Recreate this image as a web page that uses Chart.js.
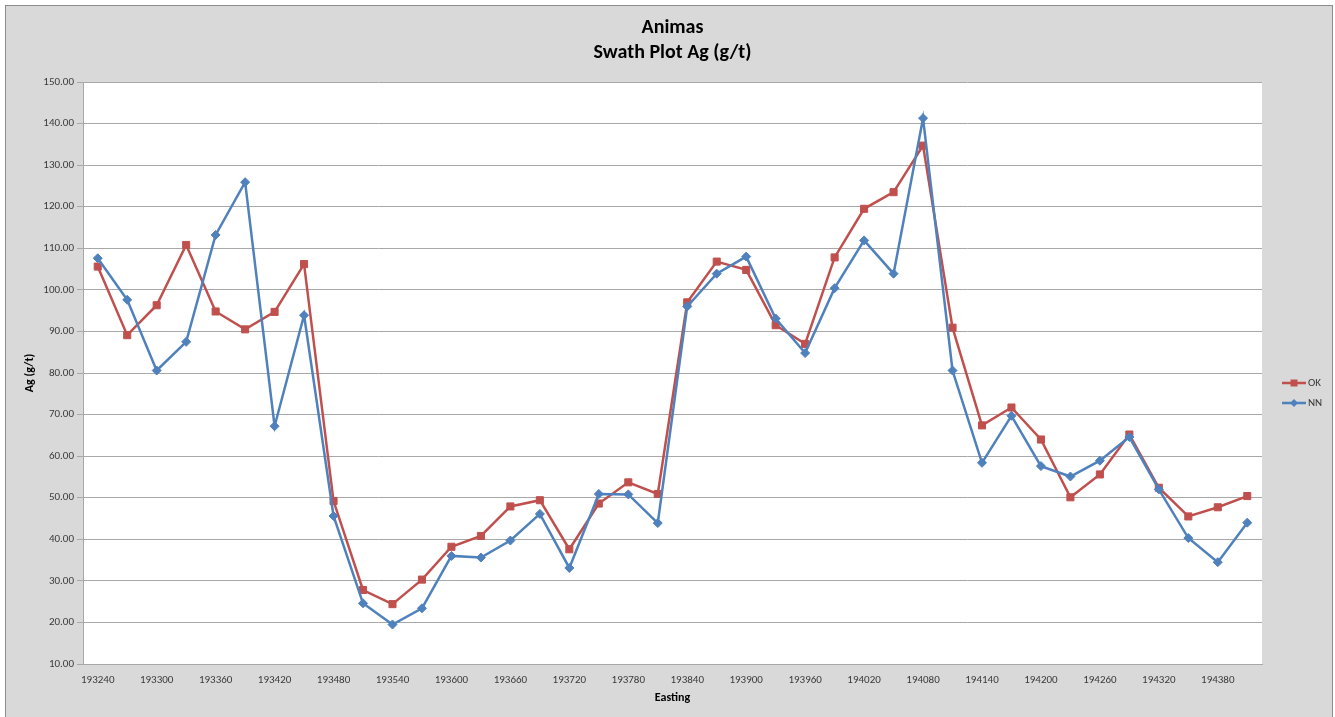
<!DOCTYPE html>
<html>
<head>
<meta charset="utf-8">
<title>Animas – Swath Plot Ag (g/t)</title>
<script src="https://cdn.jsdelivr.net/npm/chart.js@4.4.1/dist/chart.umd.min.js"></script>
<style>
  html, body { margin: 0; padding: 0; background: #ffffff; overflow: hidden; }
  #wrap { width: 1335px; height: 717px; position: relative; }
  canvas { display: block; }
</style>
</head>
<body>
<div id="wrap"><canvas id="swath" width="1335" height="717"></canvas></div>
<script>
// Swath centres (Easting) and average Ag grade per swath
const eastings = [
  193240, 193270, 193300, 193330, 193360, 193390, 193420, 193450, 193480, 193510,
  193540, 193570, 193600, 193630, 193660, 193690, 193720, 193750, 193780, 193810,
  193840, 193870, 193900, 193930, 193960, 193990, 194020, 194050, 194080, 194110,
  194140, 194170, 194200, 194230, 194260, 194290, 194320, 194350, 194380, 194410
];

// Ordinary kriging estimate
const okValues = [
  105.6, 89.1, 96.3, 110.8, 94.8, 90.5, 94.7, 106.2, 49.2, 27.8,
  24.4, 30.3, 38.2, 40.8, 47.9, 49.4, 37.6, 48.6, 53.7, 50.9,
  97.0, 106.8, 104.8, 91.5, 87.0, 107.8, 119.5, 123.5, 134.7, 90.9,
  67.4, 71.7, 64.0, 50.1, 55.6, 65.2, 52.4, 45.5, 47.7, 50.4
];

// Nearest neighbour estimate
const nnValues = [
  107.6, 97.6, 80.6, 87.5, 113.2, 125.9, 67.2, 93.9, 45.6, 24.6,
  19.5, 23.4, 36.0, 35.6, 39.7, 46.1, 33.1, 50.9, 50.8, 43.9,
  96.0, 103.9, 108.0, 93.1, 84.8, 100.4, 111.9, 103.9, 141.3, 80.6,
  58.4, 69.7, 57.6, 55.1, 58.9, 64.6, 52.0, 40.3, 34.5, 44.0
];

// Axis settings
const yMin = 10;
const yMax = 150;
const yStep = 10;
const titleLines = ['Animas', 'Swath Plot Ag (g/t)'];
const xTitle = 'Easting';
const yTitle = 'Ag (g/t)';

const FONT = "Carlito, Lato, 'Open Sans', sans-serif";
const TEXT = '#3a3a3a';
const GRID = '#a8a8a8';
const RED = '#C0504D';
const BLUE = '#4F81BD';

// Grey chart frame with a white plot area
const framePlugin = {
  id: 'frame',
  beforeDraw(chart) {
    const { ctx, chartArea: a } = chart;
    ctx.save();
    ctx.fillStyle = '#ffffff';
    ctx.fillRect(0, 0, chart.width, chart.height);
    ctx.fillStyle = '#d9d9d9';
    ctx.fillRect(5, 5, chart.width - 7, chart.height);
    ctx.strokeStyle = '#8c8c8c';
    ctx.lineWidth = 1;
    ctx.strokeRect(5.5, 5.5, chart.width - 8, chart.height + 5);
    ctx.fillStyle = '#ffffff';
    ctx.fillRect(a.left, a.top, a.right - a.left, a.bottom - a.top);
    ctx.restore();
  }
};

// Legend on the right: a short line with the series marker, then the name
const sideLegend = {
  id: 'sideLegend',
  afterDraw(chart) {
    const { ctx } = chart;
    const order = [0, 1];
    const x0 = 1282, x1 = 1306, rowY = [383, 403];
    ctx.save();
    order.forEach((di, k) => {
      const ds = chart.data.datasets[di];
      const y = rowY[k];
      const xm = (x0 + x1) / 2;
      ctx.strokeStyle = ds.borderColor;
      ctx.lineWidth = 2.5;
      ctx.beginPath();
      ctx.moveTo(x0, y);
      ctx.lineTo(x1, y);
      ctx.stroke();
      ctx.fillStyle = ds.pointBackgroundColor;
      ctx.beginPath();
      if (ds.pointStyle === 'rect') {
        ctx.rect(xm - 3.5, y - 3.5, 7, 7);
      } else {
        ctx.moveTo(xm, y - 4);
        ctx.lineTo(xm + 4, y);
        ctx.lineTo(xm, y + 4);
        ctx.lineTo(xm - 4, y);
        ctx.closePath();
      }
      ctx.fill();
      ctx.fillStyle = TEXT;
      ctx.font = '11px ' + FONT;
      ctx.textBaseline = 'middle';
      ctx.textAlign = 'left';
      ctx.fillText(ds.label, x1 + 2, y);
    });
    ctx.restore();
  }
};

new Chart(document.getElementById('swath'), {
  type: 'line',
  data: {
    labels: eastings,
    datasets: [
      {
        label: 'OK',
        data: okValues,
        borderColor: RED,
        backgroundColor: RED,
        pointBackgroundColor: RED,
        pointBorderColor: RED,
        pointStyle: 'rect',
        pointRadius: 5,
        pointBorderWidth: 1,
        borderWidth: 2.5,
        tension: 0,
        order: 2
      },
      {
        label: 'NN',
        data: nnValues,
        borderColor: BLUE,
        backgroundColor: BLUE,
        pointBackgroundColor: BLUE,
        pointBorderColor: BLUE,
        pointStyle: 'rectRot',
        pointRadius: 4.5,
        pointBorderWidth: 1,
        borderWidth: 2.5,
        tension: 0,
        order: 1
      }
    ]
  },
  options: {
    responsive: false,
    animation: false,
    layout: { padding: { left: 0, right: 73, top: 0, bottom: 0 } },
    plugins: {
      legend: { display: false },
      tooltip: { enabled: false },
      title: {
        display: true,
        fullSize: false,
        text: titleLines,
        color: '#000000',
        font: { family: FONT, size: 20, weight: 'bold', lineHeight: 1.25 },
        padding: { top: 15.5, bottom: 16.5 }
      }
    },
    scales: {
      x: {
        offset: true,
        grid: { display: false, drawTicks: false },
        border: { display: true, color: GRID, width: 1 },
        ticks: {
          autoSkip: false,
          maxRotation: 0,
          padding: 10,
          color: TEXT,
          font: { family: FONT, size: 11 },
          callback: (v, i) => (i % 2 === 0 ? String(eastings[i]) : '')
        },
        title: {
          display: true,
          text: xTitle,
          color: '#000000',
          font: { family: FONT, size: 12, weight: 'bold' },
          padding: { top: 0, bottom: 12 }
        },
        afterFit(scale) { scale.height = 53; }
      },
      y: {
        min: yMin,
        max: yMax,
        grid: { color: GRID, lineWidth: 1, tickLength: 6, drawTicks: true },
        border: { display: true, color: GRID, width: 1 },
        ticks: {
          stepSize: yStep,
          padding: 3,
          color: TEXT,
          font: { family: FONT, size: 11 },
          callback: v => Number(v).toFixed(2)
        },
        title: {
          display: true,
          text: yTitle,
          color: '#000000',
          font: { family: FONT, size: 12, weight: 'bold' },
          padding: { top: 23, bottom: 0 }
        },
        afterFit(scale) { scale.width = 83; }
      }
    }
  },
  plugins: [framePlugin, sideLegend]
});
</script>
</body>
</html>
